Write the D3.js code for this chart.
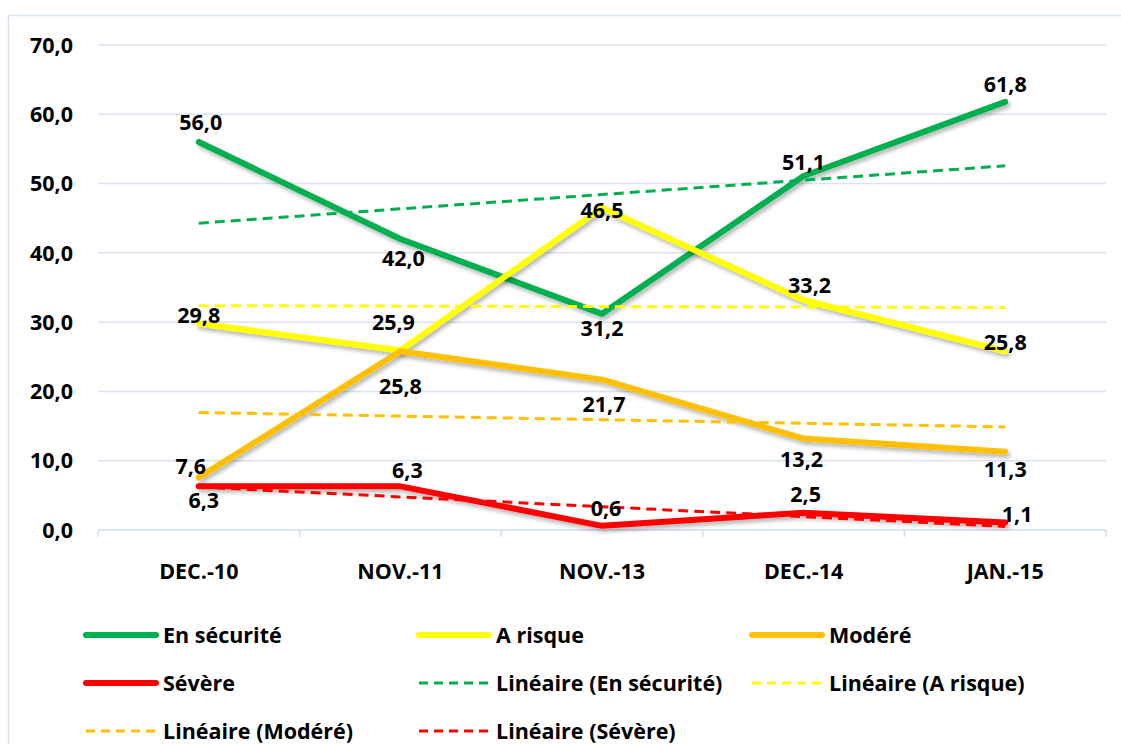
<!DOCTYPE html>
<html lang="fr">

<head>
    <meta charset="UTF-8">
    <title>Evolution</title>
    <script src="https://d3js.org/d3.v7.min.js"></script>
    <style>
        body { margin: 0; background: #fff; }
        text { font-family: "Open Sans", Lato, sans-serif; font-weight: bold; fill: #000; }
    </style>
</head>

<body>
    <script>
        // data
        let categories = ["DEC.-10", "NOV.-11", "NOV.-13", "DEC.-14", "JAN.-15"];
        let seriesNames = ["En sécurité", "A risque", "Modéré", "Sévère"];
        let enSecurite = [56.0, 42.0, 31.2, 51.1, 61.8];
        let aRisque = [29.8, 25.9, 46.5, 33.2, 25.8];
        let modere = [7.6, 25.8, 21.7, 13.2, 11.3];
        let severe = [6.3, 6.3, 0.6, 2.5, 1.1];
        let yTicks = [0, 10, 20, 30, 40, 50, 60, 70];

        let colors = ["#00B050", "#FFFF00", "#FFC000", "#FF0000"];
        let allValues = [enSecurite, aRisque, modere, severe];

        // label offsets (dx, dy) relative to each point
        let labelOffsets = [
            [[2, -20], [3, 19], [0, 14], [0, -14], [0, -18]],
            [[0, -8], [-7, -28], [0, 2], [6, -15], [0, -9]],
            [[-8, -11], [0, 35], [2, 25], [-2, 21], [0, 18]],
            [[5, 14], [7, -16], [4, -18], [2, -18], [12, -8]]
        ];

        let fontSize = "21.5px";
        let width = 1121;
        let height = 744;

        let svg = d3.select("body")
            .append("svg")
            .attr("width", width)
            .attr("height", height);

        let defs = svg.append("defs");
        defs.append("filter")
            .attr("id", "shadow")
            .attr("x", "-10%").attr("y", "-10%")
            .attr("width", "120%").attr("height", "130%")
            .append("feDropShadow")
            .attr("dx", 2).attr("dy", 3)
            .attr("stdDeviation", 2)
            .attr("flood-color", "#000")
            .attr("flood-opacity", 0.3);

        // chart border
        svg.append("rect")
            .attr("x", 8.5).attr("y", 15.5)
            .attr("width", 1200).attr("height", 800)
            .style("fill", "none")
            .style("stroke", "#D6E1F1")
            .style("stroke-width", 1.5);

        let x = d3.scaleBand().domain(categories).range([98, 1106]);
        let y = d3.scaleLinear().domain([0, 70]).range([530, 45]);
        let cx = c => x(c) + x.bandwidth() / 2;

        // gridlines
        svg.append("g")
            .selectAll("line")
            .data(yTicks.filter(d => d > 0))
            .enter()
            .append("line")
            .attr("x1", 98).attr("x2", 1106)
            .attr("y1", d => y(d)).attr("y2", d => y(d))
            .style("stroke", "#D9E3F2")
            .style("stroke-width", 1.5);

        // y axis labels
        svg.append("g")
            .selectAll("text")
            .data(yTicks)
            .enter()
            .append("text")
            .attr("x", 73)
            .attr("y", d => y(d))
            .attr("dy", "0.36em")
            .attr("text-anchor", "end")
            .style("font-size", fontSize)
            .text(d => d3.format(".1f")(d).replace(".", ","));

        // x axis
        let xAxis = svg.append("g")
            .attr("transform", "translate(0,530)")
            .call(d3.axisBottom(x).tickSize(0).tickPadding(34));
        xAxis.select(".domain").remove();
        xAxis.selectAll("text")
            .style("font-size", fontSize)
            .style("font-family", "'Open Sans', Lato, sans-serif");
        svg.append("line")
            .attr("x1", 98).attr("x2", 1106)
            .attr("y1", 530).attr("y2", 530)
            .style("stroke", "#D0DCEE")
            .style("stroke-width", 1.5);
        svg.append("g")
            .selectAll("line")
            .data(d3.range(categories.length + 1))
            .enter()
            .append("line")
            .attr("x1", i => 98 + i * x.step()).attr("x2", i => 98 + i * x.step())
            .attr("y1", 530).attr("y2", 537)
            .style("stroke", "#D0DCEE")
            .style("stroke-width", 1.5);

        let line = d3.line()
            .x((d, i) => cx(categories[i]))
            .y(d => y(d));

        // series
        allValues.forEach((vals, s) => {
            svg.append("path")
                .datum(vals)
                .attr("d", line)
                .attr("filter", "url(#shadow)")
                .style("fill", "none")
                .style("stroke", colors[s])
                .style("stroke-width", 6)
                .style("stroke-linecap", "round")
                .style("stroke-linejoin", "round");
        });

        // linear trendlines (least squares)
        function trend(vals) {
            let xs = vals.map((v, i) => i + 1);
            let mx = d3.mean(xs), my = d3.mean(vals);
            let slope = d3.sum(xs, (xv, i) => (xv - mx) * (vals[i] - my)) / d3.sum(xs, xv => (xv - mx) ** 2);
            return xs.map(xv => my + slope * (xv - mx));
        }

        allValues.forEach((vals, s) => {
            svg.append("path")
                .datum(trend(vals))
                .attr("d", line)
                .style("fill", "none")
                .style("stroke", colors[s])
                .style("stroke-width", 3)
                .style("stroke-dasharray", "10,6");
        });

        // data labels
        allValues.forEach((vals, s) => {
            svg.append("g")
                .selectAll("text")
                .data(vals)
                .enter()
                .append("text")
                .attr("x", (d, i) => cx(categories[i]) + labelOffsets[s][i][0])
                .attr("y", (d, i) => y(d) + labelOffsets[s][i][1])
                .attr("dy", "0.36em")
                .attr("text-anchor", "middle")
                .style("font-size", fontSize)
                .text(d => d3.format(".1f")(d).replace(".", ","));
        });

        // legend
        let legendItems = seriesNames.map((n, i) => ({ name: n, color: colors[i], dashed: false }))
            .concat(seriesNames.map((n, i) => ({ name: "Linéaire (" + n + ")", color: colors[i], dashed: true })));
        let colX = [86, 419, 752];
        let rowY = [635, 683, 731];

        let legend = svg.append("g")
            .selectAll("g")
            .data(legendItems)
            .enter()
            .append("g")
            .attr("transform", (d, i) => "translate(" + colX[i % 3] + "," + rowY[Math.floor(i / 3)] + ")");

        legend.append("line")
            .attr("x1", 0).attr("x2", 70)
            .attr("y1", 0).attr("y2", 0)
            .style("stroke", d => d.color)
            .style("stroke-width", d => d.dashed ? 3 : 6)
            .style("stroke-linecap", d => d.dashed ? "butt" : "round")
            .style("stroke-dasharray", d => d.dashed ? "9,6" : null);

        legend.append("text")
            .attr("x", 77)
            .attr("dy", "0.36em")
            .style("font-size", fontSize)
            .text(d => d.name);
    </script>
</body>

</html>
